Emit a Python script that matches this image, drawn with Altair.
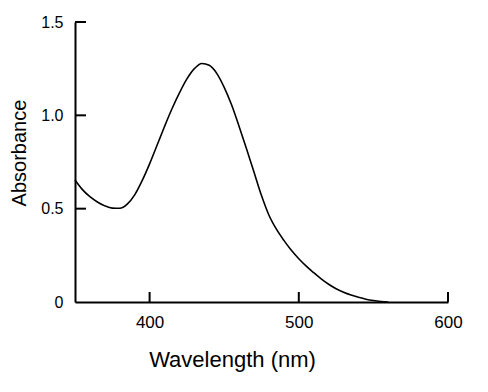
import altair as alt
import pandas as pd

# Absorbance spectrum
wavelength = [350, 355, 360, 365, 370, 375, 380, 385, 390, 395,
              400, 405, 410, 415, 420, 425, 430, 435, 440, 445,
              450, 455, 460, 465, 470, 475, 480, 485, 490, 495,
              500, 505, 510, 515, 520, 525, 530, 535, 540, 545,
              550, 555, 560]
absorbance = [0.654, 0.602, 0.564, 0.536, 0.515, 0.503, 0.502, 0.524, 0.574, 0.650,
              0.740, 0.840, 0.940, 1.035, 1.120, 1.195, 1.250, 1.278, 1.268, 1.225,
              1.150, 1.055, 0.940, 0.820, 0.695, 0.570, 0.465, 0.390, 0.330, 0.277,
              0.232, 0.192, 0.157, 0.124, 0.095, 0.071, 0.052, 0.037, 0.025, 0.015,
              0.008, 0.003, 0.000]

x_tick_values = [400, 500, 600]
y_tick_values = [0.0, 0.5, 1.0, 1.5]
y_inner_ticks = [0.5, 1.0, 1.5]

df = pd.DataFrame({"wl": wavelength, "abs": absorbance})
xt = pd.DataFrame({"wl": x_tick_values})
yt = pd.DataFrame({"abs": y_inner_ticks})

FONT = "Liberation Sans"
W, H = 373, 280

x_scale = alt.Scale(domain=[350, 600], nice=False, zero=False)
y_scale = alt.Scale(domain=[0, 1.5], nice=False)

x_axis = alt.Axis(
    values=x_tick_values, ticks=False, grid=False,
    domainColor="black", domainWidth=2,
    labelFont=FONT, labelFontSize=17, labelColor="black",
    labelPadding=25, labelBaseline="alphabetic", labelFlush=False,
    title="Wavelength (nm)", titleFont=FONT, titleFontSize=22,
    titleFontWeight="normal", titleColor="black",
    titleX=157, titleY=64, titleAlign="center", titleBaseline="alphabetic",
)
y_axis = alt.Axis(
    values=y_tick_values, ticks=False, grid=False,
    domainColor="black", domainWidth=2,
    labelFont=FONT, labelFontSize=16, labelColor="black",
    labelPadding=12, labelBaseline="middle", labelAlign="right", labelFlush=False,
    labelExpr="datum.value == 0 ? '0' : format(datum.value, '.1f')",
    title="Absorbance", titleFont=FONT, titleFontSize=20,
    titleFontWeight="normal", titleColor="black",
    titleX=-50, titleY=130.5, titleAlign="center", titleBaseline="alphabetic",
    titleAngle=270,
)

line = alt.Chart(df).mark_line(color="black", strokeWidth=1.6, interpolate="monotone").encode(
    x=alt.X("wl:Q", scale=x_scale, axis=x_axis),
    y=alt.Y("abs:Q", scale=y_scale, axis=y_axis),
)

x_ticks = alt.Chart(xt).mark_rule(color="black", strokeWidth=2).encode(
    x=alt.X("wl:Q", scale=x_scale, axis=x_axis),
    y=alt.value(H),
    y2=alt.value(H - 10),
)

y_ticks = alt.Chart(yt).mark_rule(color="black", strokeWidth=2).encode(
    y=alt.Y("abs:Q", scale=y_scale, axis=y_axis),
    x=alt.value(0),
    x2=alt.value(11),
)

chart = alt.layer(line, x_ticks, y_ticks).properties(
    width=W, height=H,
    autosize=alt.AutoSizeParams(type="none"),
    padding={"left": 67, "top": 14, "right": 32, "bottom": 70},
    background="white",
).configure_view(stroke=None)

chart.save("out.html", embed_options={"renderer": "svg", "actions": False})
